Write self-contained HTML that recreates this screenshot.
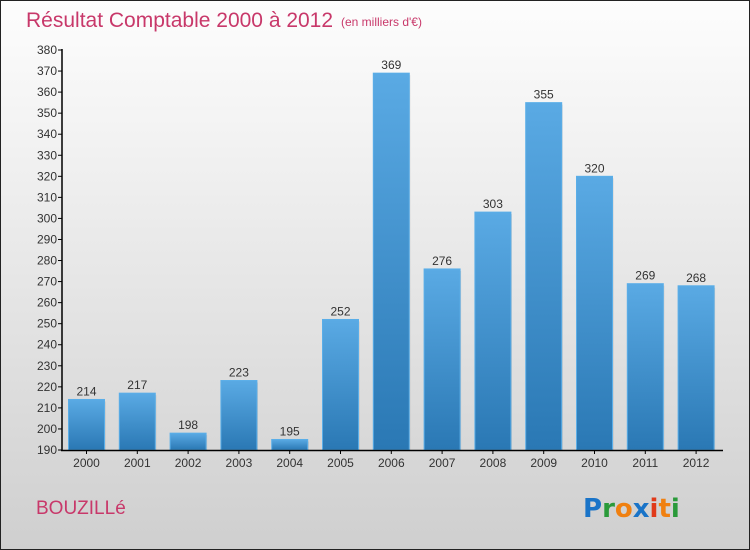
<!DOCTYPE html>
<html><head><meta charset="utf-8"><style>
body{margin:0}
#c{position:relative;width:748px;height:548px;border:1px solid #222;background:linear-gradient(#fdfdfd,#f0f0f0 30%,#cfcfcf);font-family:"Liberation Sans",sans-serif;overflow:hidden}
</style></head><body>
<div id="c">
<svg width="748" height="548" id="svg">
<defs><linearGradient id="bg" x1="0" y1="0" x2="0" y2="1"><stop offset="0" stop-color="#5aaae4"/><stop offset="1" stop-color="#2a78b4"/></linearGradient></defs>
<text x="25" y="26" font-size="21" fill="#c8386a">Résultat Comptable 2000 à 2012</text>
<text x="340" y="25" font-size="12" fill="#c8386a">(en milliers d'€)</text>
<text x="35" y="513" font-size="19" fill="#c8386a">BOUZILLé</text>
<text x="582" y="516" font-size="26" font-weight="bold" font-family="'DejaVu Sans',sans-serif"><tspan fill="#1a74c8">P</tspan><tspan fill="#2a9a3a">r</tspan><tspan fill="#f08010">o</tspan><tspan fill="#1a74c8">x</tspan><tspan fill="#e03a1a">i</tspan><tspan fill="#f08010">t</tspan><tspan fill="#2a9a3a">i</tspan></text>
<g id="g"></g>
</svg></div>
<script>
const years=["2000","2001","2002","2003","2004","2005","2006","2007","2008","2009","2010","2011","2012"];
const values=[214,217,198,223,195,252,369,276,303,355,320,269,268];
const yTicks=[190,200,210,220,230,240,250,260,270,280,290,300,310,320,330,340,350,360,370,380];
const NS="http://www.w3.org/2000/svg",g=document.getElementById('g');
const y0=449,y1=49,vmin=190,vmax=380;
const Y=v=>y0-(v-vmin)/(vmax-vmin)*(y0-y1);
const X=i=>85.5+i*50.8;
function mk(t,a){const e=document.createElementNS(NS,t);for(const k in a)e.setAttribute(k,a[k]);g.appendChild(e);return e;}
yTicks.forEach(v=>{
 const l=mk('line',{x1:57,x2:61,y1:Y(v),y2:Y(v),stroke:'#000'});
 
 
 const t=mk('text',{x:56,y:Y(v)+4,'font-size':12,'text-anchor':'end',fill:'#333'});t.textContent=v;
 
 
});
values.forEach((v,i)=>{
 const x=X(i);
 const s=mk('rect',{x:x-17,y:Y(v)+2,width:36,height:y0-Y(v)-2,fill:'#000',opacity:0.12});
 
 
 const r=mk('rect',{x:x-18,y:Y(v),width:36,height:y0-Y(v),fill:'url(#bg)',stroke:'#5aaee8','stroke-width':1});
 
 
 const t=mk('text',{x:x,y:Y(v)-4,'font-size':12,'text-anchor':'middle',fill:'#333'});t.textContent=v;
 
 
 const k=mk('line',{x1:x,x2:x,y1:y0,y2:y0+4,stroke:'#000'});
 
 
 const xl=mk('text',{x:x,y:466,'font-size':12,'text-anchor':'middle',fill:'#333'});xl.textContent=years[i];
 
 
});
const ya=mk('line',{x1:61,x2:61,y1:y1-1,y2:y0+1,stroke:'#000','stroke-width':1.5});


const xa=mk('line',{x1:60,x2:722,y1:y0+0.5,y2:y0+0.5,stroke:'#000','stroke-width':1.5});


</script>
</body></html>
